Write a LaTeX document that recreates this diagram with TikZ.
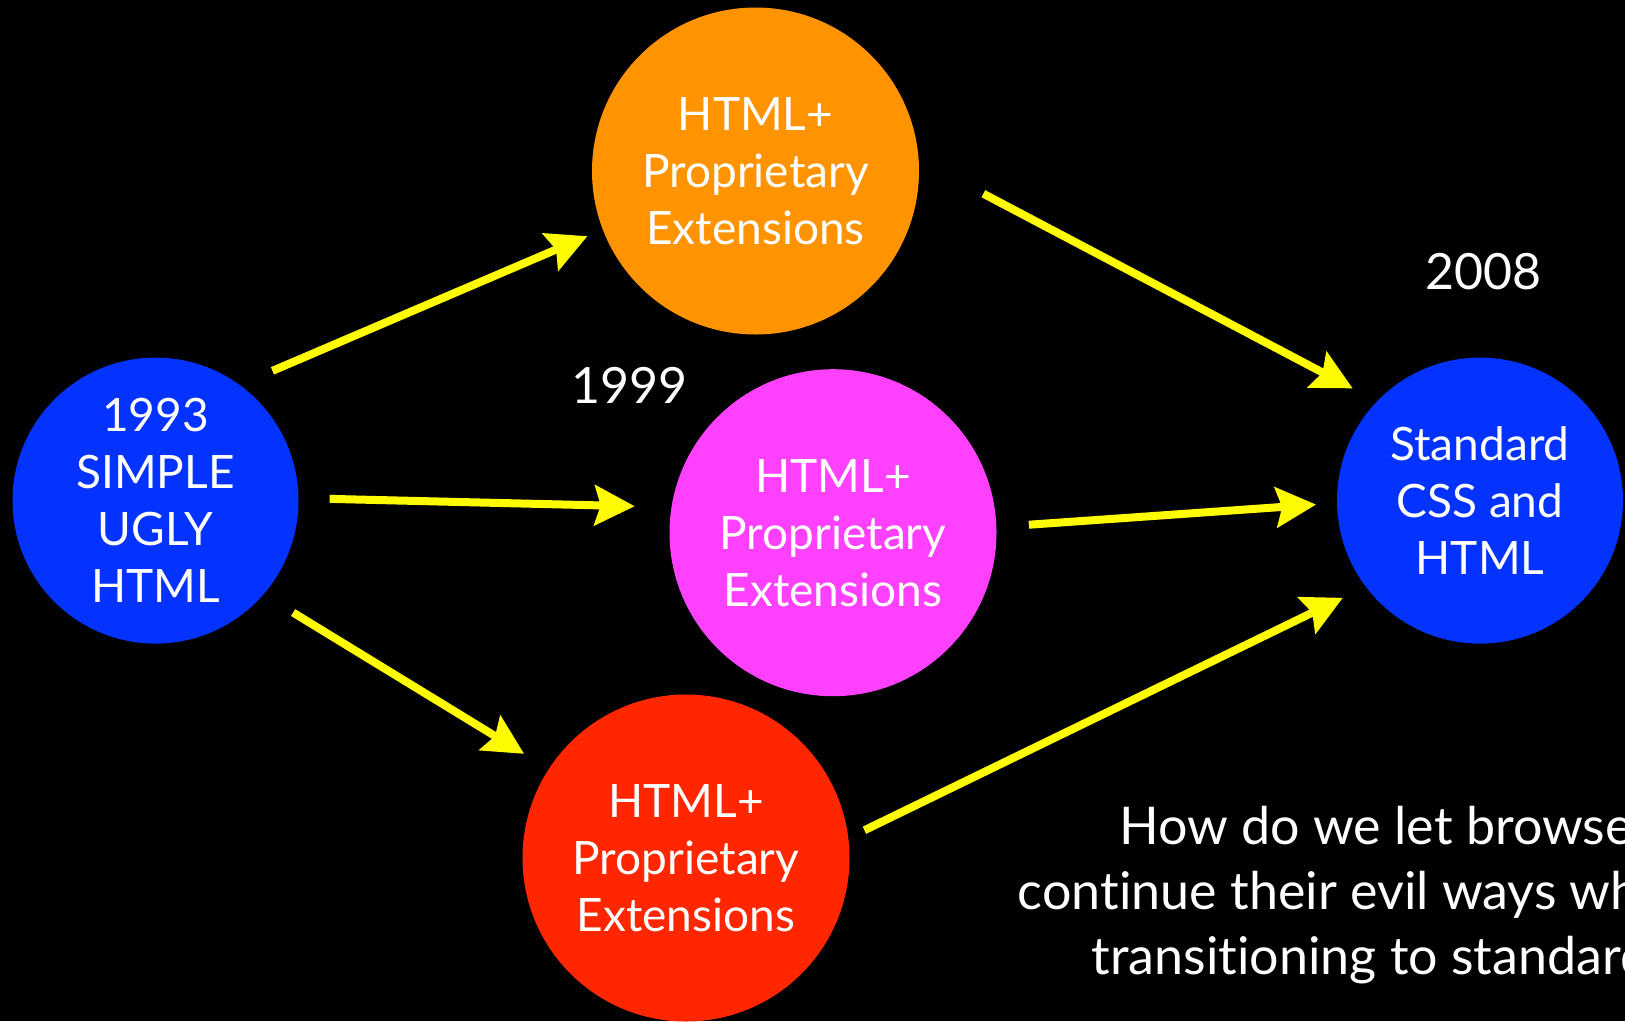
\documentclass[tikz,border=0pt]{standalone}
\usepackage{fontspec}
\setmainfont{Lato}[Ligatures=NoCommon]
\usetikzlibrary{arrows.meta}
\definecolor{myblue}{RGB}{4,51,255}
\definecolor{myorange}{RGB}{255,147,0}
\definecolor{mymagenta}{RGB}{255,64,255}
\definecolor{myred}{RGB}{255,38,0}
\definecolor{myyellow}{RGB}{255,251,0}
\tikzset{
  disc/.style={circle, draw=none, inner sep=0pt, outer sep=0pt, text=white,
    align=center, font=\fontsize{46}{57}\selectfont},
  smalldisc/.style={disc, minimum size=286pt, fill=myblue},
  bigdisc/.style={disc, minimum size=327pt},
  yearlabel/.style={text=white, inner sep=0pt, font=\fontsize{50}{60}\selectfont},
  question/.style={text=white, inner sep=0pt, anchor=base west,
    font=\fontsize{52}{64}\selectfont},
  link/.style={-{Stealth[length=40pt,width=40pt,inset=6pt]}, line width=8pt,
    color=myyellow}
}

\begin{document}
\begin{tikzpicture}[x=1pt,y=-1pt]

\useasboundingbox (0,0) rectangle (1625,1021);
\clip (0,0) rectangle (1625,1021);
\fill[black] (0,0) rectangle (1625,1021);

\node [smalldisc] (simple) at (155.5,500.6) {1993\\SIMPLE\\UGLY\\HTML};
\node [bigdisc, fill=myorange] (top) at (755.5,171) {HTML+\\Proprietary\\Extensions};
\node [bigdisc, fill=mymagenta] (mid) at (833,532.7) {HTML+\\Proprietary\\Extensions};
\node [bigdisc, fill=myred] (bot) at (686,858) {HTML+\\Proprietary\\Extensions};
\node [smalldisc] (std) at (1480,500.6) {Standard\\CSS and\\HTML};

\node [yearlabel] (y1999) at (629,385.5) {1999};
\node [yearlabel] (y2008) at (1483,271.5) {2008};

\draw[link, shorten <=35.8pt, shorten >=16.8pt] (simple.54) -- (top.201.4);
\draw[link, shorten <=31.2pt, shorten >=36.8pt] (simple.1.2) -- (mid.171.6);
\draw[link, shorten <=34.8pt, shorten >=29pt] (simple.-41.5) -- (bot.147.3);
\draw[link, shorten <=73.2pt, shorten >=27.6pt] (top.4) -- (std.136.1);
\draw[link, shorten <=32.5pt, shorten >=21pt] (mid.2.5) -- (std.181.1);
\draw[link, shorten <=17.9pt, shorten >=25.5pt] (bot.7.4) -- (std.217.1);

\node [question] (q1) at (1119,844.7) {How do we let browse};
\node [question] (q2) at (1017.7,909) {continue their evil ways wh};
\node [question] (q3) at (1091.3,974.2) {transitioning to standard};

\end{tikzpicture}
\end{document}
